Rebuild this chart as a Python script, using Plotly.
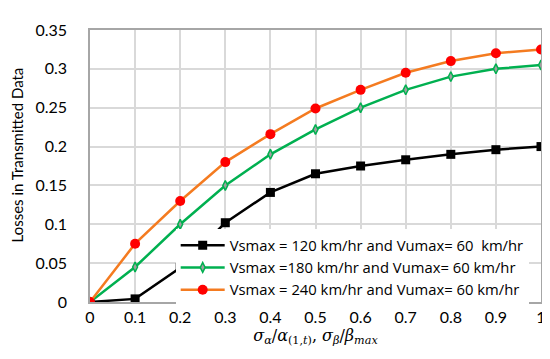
import plotly.graph_objects as go

x_vals = [0, 0.1, 0.2, 0.3, 0.4, 0.5, 0.6, 0.7, 0.8, 0.9, 1.0]
series_names = [
    "Vsmax = 120 km/hr and Vumax= 60  km/hr",
    "Vsmax =180 km/hr and Vumax= 60 km/hr",
    "Vsmax = 240 km/hr and Vumax= 60 km/hr",
]
black_vals = [0, 0.004, 0.044, 0.102, 0.141, 0.165, 0.175, 0.183, 0.190, 0.196, 0.200]
green_vals = [0, 0.045, 0.100, 0.150, 0.190, 0.222, 0.250, 0.273, 0.290, 0.300, 0.305]
orange_vals = [0, 0.075, 0.130, 0.180, 0.216, 0.249, 0.273, 0.295, 0.310, 0.320, 0.325]
x_ticks = [0, 0.1, 0.2, 0.3, 0.4, 0.5, 0.6, 0.7, 0.8, 0.9, 1]
y_ticks = [0, 0.05, 0.1, 0.15, 0.2, 0.25, 0.3, 0.35]
y_title = "Losses in Transmitted Data"

font_family = "Lato, Open Sans, sans-serif"
legend_family = "Open Sans, Lato, sans-serif"

fig = go.Figure()
fig.add_trace(go.Scatter(
    x=x_vals, y=black_vals, name=series_names[0], mode="lines+markers",
    line=dict(color="#000000", width=2.5),
    marker=dict(symbol="square", size=9, color="#000000"),
))
fig.add_trace(go.Scatter(
    x=x_vals, y=green_vals, name=series_names[1], mode="lines+markers",
    line=dict(color="#00b050", width=2.5),
    marker=dict(symbol="diamond-tall", size=7, color="#a0a0a0",
                line=dict(color="#00b050", width=1.5)),
))
fig.add_trace(go.Scatter(
    x=x_vals, y=orange_vals, name=series_names[2], mode="lines+markers",
    line=dict(color="#f47b20", width=2.5),
    marker=dict(symbol="circle", size=10, color="#ff0000"),
))

fig.update_layout(
    width=550, height=359,
    margin=dict(l=82, r=16, t=16, b=65),
    paper_bgcolor="white", plot_bgcolor="white",
    font=dict(family=font_family, size=16, color="#000000"),
    showlegend=True,
    legend=dict(
        x=0.19, y=-0.015, xanchor="left", yanchor="bottom",
        bgcolor="white", borderwidth=0,
        font=dict(size=14.8, family=legend_family),
        tracegroupgap=0, itemwidth=44,
    ),
    xaxis=dict(
        range=[0, 1], tickvals=x_ticks, ticktext=[str(v) for v in x_ticks],
        showgrid=True, gridcolor="#d9d9d9", gridwidth=1.5,
        showline=True, linecolor="#a6a6a6", linewidth=1.5, mirror=True,
        zeroline=False, ticks="", tickfont=dict(size=16),
        title=dict(
            text="<i>σ</i><sub><i>α</i></sub>/<i>α</i><sub>(1,<i>t</i>)</sub>, <i>σ</i><sub><i>β</i></sub>/<i>β</i><sub><i>max</i></sub>",
            font=dict(size=16, family="DejaVu Serif, serif"), standoff=4,
        ),
    ),
    yaxis=dict(
        range=[0, 0.35], tickvals=y_ticks, ticktext=[str(v) for v in y_ticks],
        showgrid=True, gridcolor="#d9d9d9", gridwidth=1.5,
        showline=True, linecolor="#a6a6a6", linewidth=1.5, mirror=True,
        zeroline=False, ticks="", tickfont=dict(size=16),
        ticklabelstandoff=18,
    ),
    annotations=[dict(
        text=y_title, textangle=-90, showarrow=False,
        xref="paper", yref="paper", x=-0.161, y=0.54,
        xanchor="center", yanchor="middle",
        font=dict(size=15, family=font_family),
    )],
)

fig.write_html("out.html")
